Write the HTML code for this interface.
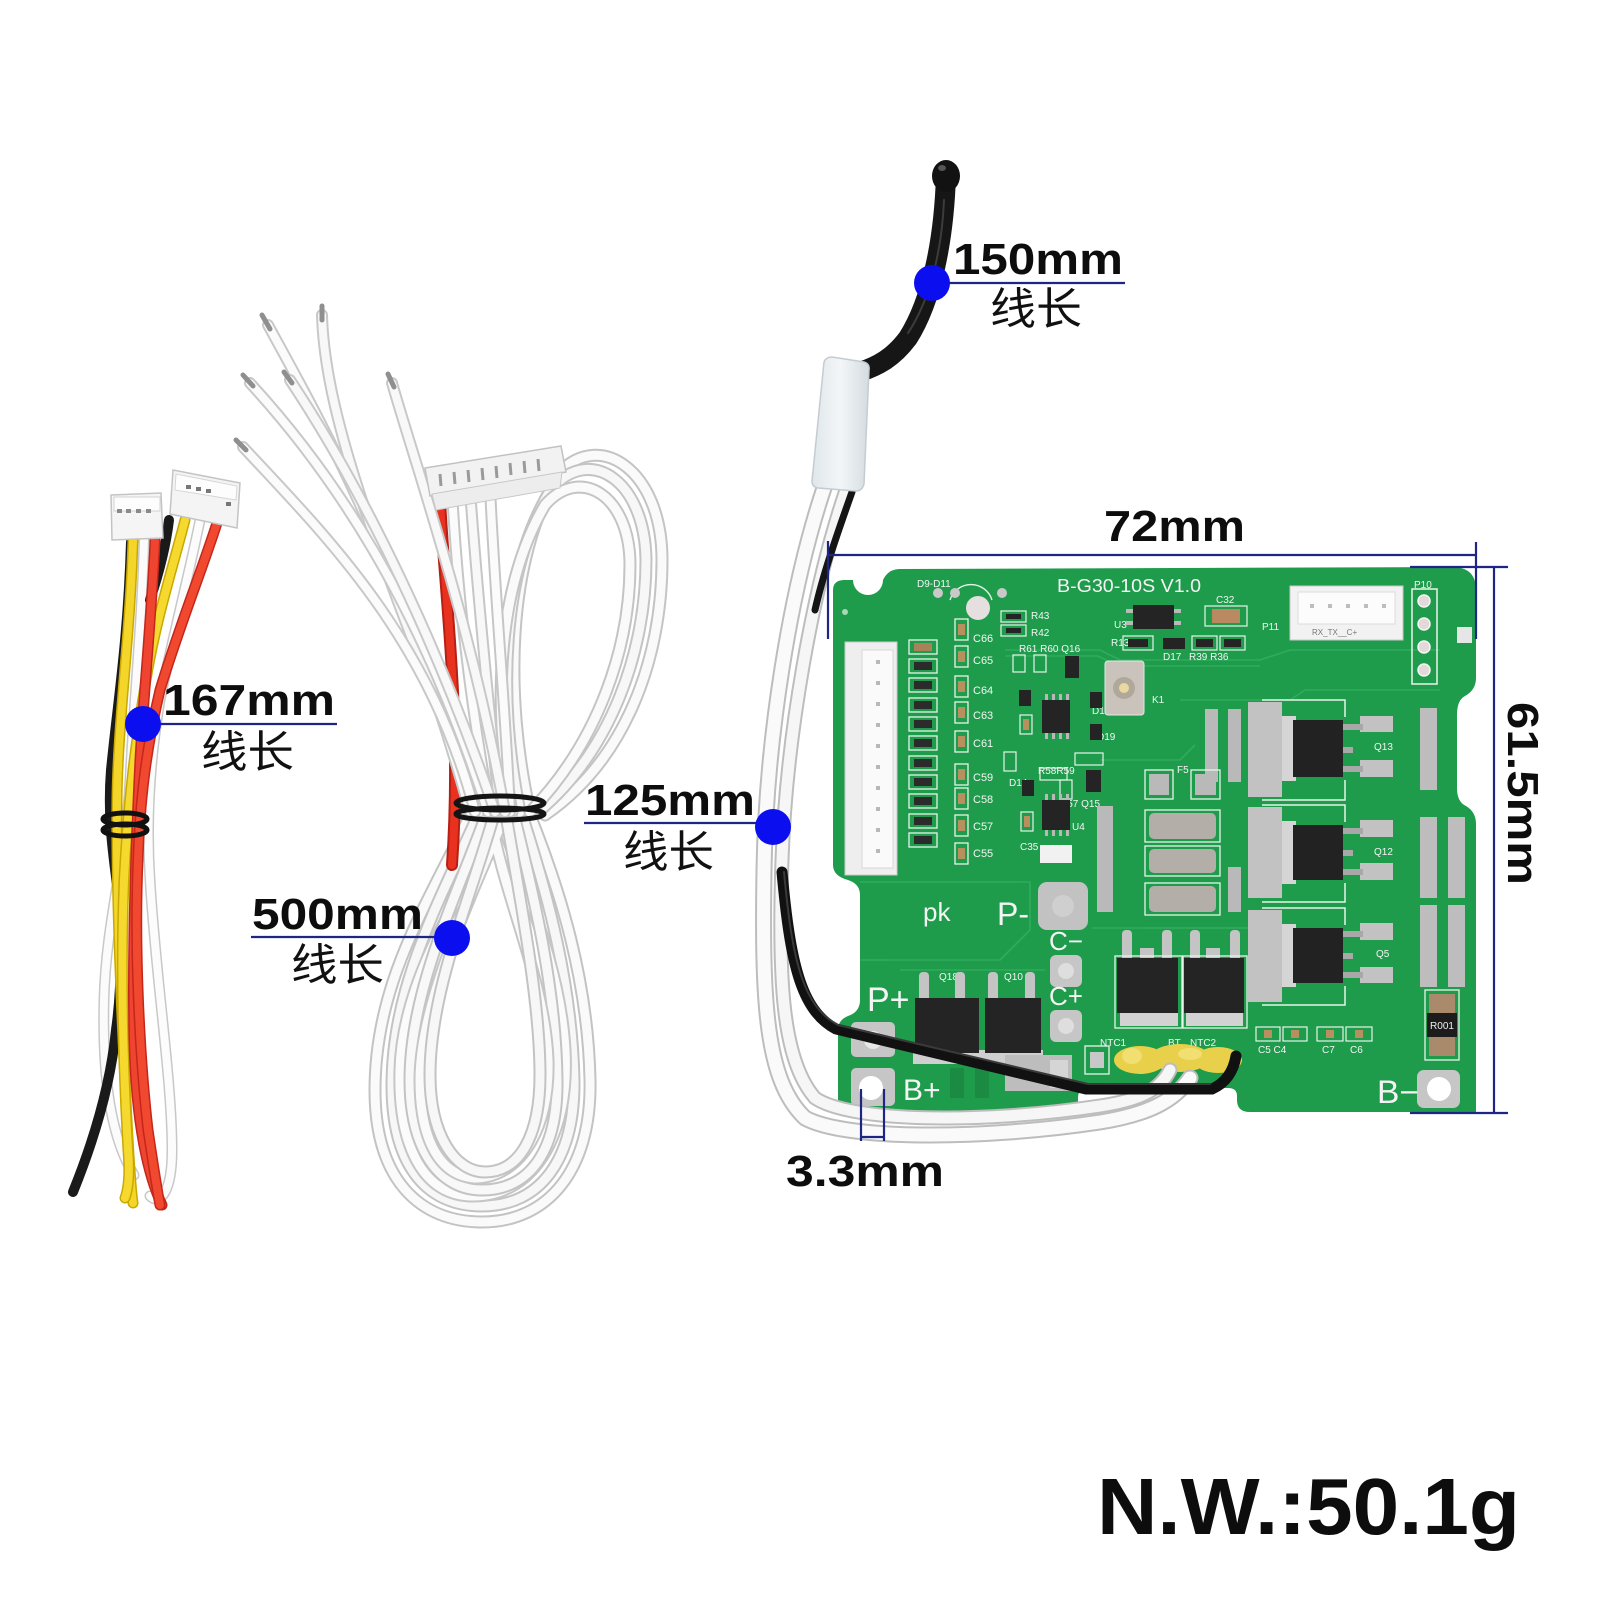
<!DOCTYPE html>
<html><head><meta charset="utf-8">
<style>
html,body{margin:0;padding:0;background:#fff;}
svg{display:block;}
text{font-family:"Liberation Sans","Noto Sans CJK SC",sans-serif;}
.lbl{font-weight:bold;fill:#0d0d0d;font-size:44px;}
.cjk{font-family:"Liberation Sans","Noto Sans CJK SC",sans-serif;fill:#111;font-size:44px;}
.wt{fill:#f4f4f4;font-family:"Liberation Sans",sans-serif;}
</style></head>
<body>
<svg width="1600" height="1600" viewBox="0 0 1600 1600" xmlns="http://www.w3.org/2000/svg">
<defs>
<linearGradient id="sleeve" x1="0" y1="0" x2="1" y2="0">
<stop offset="0" stop-color="#dfe6ea"/><stop offset="0.5" stop-color="#f3f6f8"/><stop offset="1" stop-color="#d4dce0"/>
</linearGradient>
<path id="w1" d="M268,325 C320,420 400,560 470,812"/>
<path id="w2" d="M322,315 C325,420 380,560 480,812"/>
<path id="w3" d="M250,383 C330,470 420,600 488,812"/>
<path id="w4" d="M290,380 C350,470 430,620 495,812"/>
<path id="w5" d="M243,447 C330,540 430,640 475,812"/>
<path id="w6" d="M392,383 C420,480 470,620 505,812"/>
<path id="c1" d="M452,492 C458,600 470,700 490,812"/>
<path id="c2" d="M470,490 C478,600 488,700 500,812"/>
<path id="c3" d="M490,487 C495,600 505,700 510,812"/>
<path id="r1" d="M530,812 C505,700 505,560 560,472 C600,430 662,470 662,560 C662,660 625,760 545,815"/>
<path id="r2" d="M520,812 C498,700 500,570 552,488 C590,445 645,480 646,560 C646,650 612,750 538,812"/>
<path id="r3" d="M512,812 C492,700 498,585 545,505 C580,465 630,495 630,565 C630,645 600,740 530,812"/>
<path id="l1" d="M470,815 C430,900 375,980 375,1090 C375,1180 420,1222 482,1222 C548,1222 592,1170 590,1080 C588,980 560,890 530,815"/>
<path id="l2" d="M478,815 C440,900 392,985 392,1085 C392,1170 430,1206 482,1206 C540,1206 575,1160 574,1080 C572,985 548,895 522,815"/>
<path id="l3" d="M486,815 C455,900 410,990 410,1080 C410,1150 440,1190 482,1190 C530,1190 558,1150 557,1080 C556,990 535,900 514,815"/>
<path id="l4" d="M494,815 C470,900 430,990 430,1075 C430,1135 455,1172 485,1172 C520,1172 540,1135 540,1075 C540,1000 520,900 506,815"/>
<path id="l5" d="M500,815 C520,880 560,960 565,1050 C570,1140 530,1198 470,1196 C420,1194 398,1140 400,1070 C402,990 450,900 512,815"/>
<path id="l6" d="M490,815 C505,900 545,980 548,1060 C550,1130 520,1175 478,1178 C440,1178 420,1140 420,1080 C420,1010 460,920 505,815"/>
</defs>

<rect width="1600" height="1600" fill="#fff"/>

<!-- ================= LEFT HARNESS ================= -->
<g fill="none" stroke-linecap="round">
  <path d="M144,540 C142,620 134,700 130,780 C126,860 106,920 104,1000 C102,1080 112,1140 134,1175" stroke="#c8c8c8" stroke-width="11"/>
  <path d="M144,540 C142,620 134,700 130,780 C126,860 106,920 104,1000 C102,1080 112,1140 134,1175" stroke="#fbfbfb" stroke-width="8"/>
  <path d="M200,520 C190,570 172,640 160,700 C150,760 146,820 150,880 C156,980 172,1080 172,1150 C172,1192 160,1206 150,1196" stroke="#c8c8c8" stroke-width="11"/>
  <path d="M200,520 C190,570 172,640 160,700 C150,760 146,820 150,880 C156,980 172,1080 172,1150 C172,1192 160,1206 150,1196" stroke="#fcfcfc" stroke-width="8"/>
  <!-- black A (mostly hidden behind yellow) -->
  <path d="M131,542 C128,640 118,700 111,770 C107,820 114,860 119,900 C122,950 121,995 116,1030 C110,1090 90,1150 73,1192" stroke="#1a1a1a" stroke-width="10"/>
  <path d="M169,520 C166,545 160,570 150,600" stroke="#1a1a1a" stroke-width="10"/>
  <path d="M133,540 C130,640 118,720 117,800 C116,900 122,1020 126,1100 C129,1160 131,1190 133,1203" stroke="#c9a800" stroke-width="11"/>
  <path d="M133,540 C130,640 118,720 117,800 C116,900 122,1020 126,1100 C129,1160 131,1190 133,1203" stroke="#f4d52a" stroke-width="8"/>
  <path d="M185,520 C172,570 156,620 146,680 C136,740 128,800 124,880 C120,980 124,1080 128,1150 C130,1175 128,1190 125,1198" stroke="#c9a800" stroke-width="11"/>
  <path d="M185,520 C172,570 156,620 146,680 C136,740 128,800 124,880 C120,980 124,1080 128,1150 C130,1175 128,1190 125,1198" stroke="#f6d92e" stroke-width="8"/>
  <path d="M155,540 C152,610 144,690 140,760 C136,840 132,940 134,1040 C136,1130 150,1180 162,1205" stroke="#c4261a" stroke-width="11"/>
  <path d="M155,540 C152,610 144,690 140,760 C136,840 132,940 134,1040 C136,1130 150,1180 162,1205" stroke="#ef4430" stroke-width="8"/>
  <path d="M218,520 C202,570 178,630 160,690 C146,750 140,800 138,860 C134,950 140,1060 148,1130 C154,1170 158,1195 160,1205" stroke="#c4261a" stroke-width="11"/>
  <path d="M218,520 C202,570 178,630 160,690 C146,750 140,800 138,860 C134,950 140,1060 148,1130 C154,1170 158,1195 160,1205" stroke="#f0492f" stroke-width="8"/>
  <ellipse cx="125" cy="819" rx="22" ry="6" stroke="#111" stroke-width="5"/>
  <ellipse cx="125" cy="830" rx="22" ry="6" stroke="#111" stroke-width="5"/>
</g>
<polygon points="111,495 161,493 163,538 112,540" fill="#f5f5f5" stroke="#c4c4c4" stroke-width="1.5"/>
<rect x="114" y="497" width="46" height="14" fill="#fdfdfd" stroke="#d4d4d4"/>
<g fill="#8a8a8a"><rect x="117" y="509" width="5" height="4"/><rect x="126" y="509" width="5" height="4"/><rect x="136" y="509" width="5" height="4"/><rect x="146" y="509" width="5" height="4"/></g>
<polygon points="173,470 240,483 237,528 170,514" fill="#f4f4f4" stroke="#c4c4c4" stroke-width="1.5"/>
<polygon points="176,474 237,486 236,500 175,490" fill="#fdfdfd" stroke="#d6d6d6"/>
<g fill="#777"><rect x="186" y="485" width="5" height="4"/><rect x="196" y="487" width="5" height="4"/><rect x="206" y="489" width="5" height="4"/><rect x="226" y="502" width="5" height="4"/></g>

<!-- ================= MIDDLE BUNDLE ================= -->
<g fill="none" stroke-linecap="round">
  <g stroke="#c3c3c3" stroke-width="13"><use href="#l1"/></g><g stroke="#fafafa" stroke-width="9"><use href="#l1"/></g>
  <g stroke="#c3c3c3" stroke-width="13"><use href="#l2"/></g><g stroke="#f7f7f7" stroke-width="9"><use href="#l2"/></g>
  <g stroke="#c6c6c6" stroke-width="13"><use href="#l5"/></g><g stroke="#fbfbfb" stroke-width="9"><use href="#l5"/></g>
  <g stroke="#c3c3c3" stroke-width="13"><use href="#l3"/></g><g stroke="#f8f8f8" stroke-width="9"><use href="#l3"/></g>
  <g stroke="#c6c6c6" stroke-width="13"><use href="#l6"/></g><g stroke="#fafafa" stroke-width="9"><use href="#l6"/></g>
  <g stroke="#c3c3c3" stroke-width="13"><use href="#l4"/></g><g stroke="#f7f7f7" stroke-width="9"><use href="#l4"/></g>
  <g stroke="#c4c4c4" stroke-width="13"><use href="#r1"/></g><g stroke="#fafafa" stroke-width="9"><use href="#r1"/></g>
  <g stroke="#c4c4c4" stroke-width="13"><use href="#r2"/></g><g stroke="#f7f7f7" stroke-width="9"><use href="#r2"/></g>
  <g stroke="#c4c4c4" stroke-width="13"><use href="#r3"/></g><g stroke="#fafafa" stroke-width="9"><use href="#r3"/></g>
  <path d="M440,500 C445,600 462,720 452,865" stroke="#b61f14" stroke-width="12"/>
  <path d="M440,500 C445,600 462,720 452,865" stroke="#e8321f" stroke-width="8"/>
  <g stroke="#c6c6c6" stroke-width="12"><use href="#c1"/></g><g stroke="#fbfbfb" stroke-width="8"><use href="#c1"/></g>
  <g stroke="#c6c6c6" stroke-width="12"><use href="#c2"/></g><g stroke="#f8f8f8" stroke-width="8"><use href="#c2"/></g>
  <g stroke="#c6c6c6" stroke-width="12"><use href="#c3"/></g><g stroke="#fbfbfb" stroke-width="8"><use href="#c3"/></g>
  <g stroke="#c8c8c8" stroke-width="12"><use href="#w1"/></g><g stroke="#fbfbfb" stroke-width="8"><use href="#w1"/></g>
  <g stroke="#c8c8c8" stroke-width="12"><use href="#w2"/></g><g stroke="#f8f8f8" stroke-width="8"><use href="#w2"/></g>
  <g stroke="#c8c8c8" stroke-width="12"><use href="#w3"/></g><g stroke="#fbfbfb" stroke-width="8"><use href="#w3"/></g>
  <g stroke="#c8c8c8" stroke-width="12"><use href="#w4"/></g><g stroke="#f8f8f8" stroke-width="8"><use href="#w4"/></g>
  <g stroke="#c8c8c8" stroke-width="12"><use href="#w5"/></g><g stroke="#fbfbfb" stroke-width="8"><use href="#w5"/></g>
  <g stroke="#c8c8c8" stroke-width="12"><use href="#w6"/></g><g stroke="#f8f8f8" stroke-width="8"><use href="#w6"/></g>
  <g stroke="#8f8f8f" stroke-width="5">
    <path d="M262,315 L270,329"/><path d="M322,306 L322,320"/><path d="M243,375 L253,386"/>
    <path d="M284,372 L292,383"/><path d="M236,440 L246,450"/><path d="M388,374 L394,387"/>
  </g>
  <ellipse cx="500" cy="803" rx="44" ry="7" stroke="#141414" stroke-width="5"/>
  <ellipse cx="500" cy="814" rx="44" ry="6" stroke="#141414" stroke-width="5"/>
</g>
<polygon points="425,468 561,446 566,472 430,496" fill="#f2f2f2" stroke="#c2c2c2" stroke-width="1.5"/>
<polygon points="432,494 562,472 560,488 436,510" fill="#ededed" stroke="#c8c8c8" stroke-width="1"/>
<g stroke="#9a9a9a" stroke-width="3">
  <path d="M440,474 L441,486"/><path d="M454,472 L455,484"/><path d="M468,470 L469,482"/><path d="M482,468 L483,480"/>
  <path d="M496,466 L497,478"/><path d="M510,463 L511,475"/><path d="M524,461 L525,473"/><path d="M538,459 L539,471"/>
</g>

<!-- ================= PCB ================= -->
<path d="M833,600 L833,590 Q833,580 845,580 L853,580 A15,15 0 0 0 883,580 Q888,569 900,569 L1452,567 Q1476,567 1476,590 L1476,678 Q1476,690 1465,696 Q1457,700 1457,715 L1457,788 Q1457,802 1466,806 Q1476,812 1476,824 L1476,1112 L1250,1112 Q1237,1112 1237,1100 L1237,1096 Q1237,1088 1228,1088 L1088,1088 Q1078,1088 1078,1098 L1078,1112 L838,1112 L838,1030 Q838,1020 848,1016 Q860,1012 860,1000 L860,895 Q860,884 848,880 Q833,876 833,865 Z" fill="#1e9c4c"/>
<g fill="none" stroke="#34b062" stroke-width="1.6" opacity="0.8">
  <path d="M1005,650 L1100,650 L1120,660 L1260,660 L1290,650 L1440,650"/>
  <path d="M1005,656 L1098,656 L1118,666 L1260,666"/>
  <path d="M1180,700 L1290,700 L1305,690 L1440,690"/>
  <path d="M1100,760 L1180,760 L1195,745"/>
  <path d="M860,882 L1030,882 L1030,930 L1000,960 L860,960"/>
  <path d="M900,970 L1045,970"/>
  <path d="M1092,928 L1250,928"/>
</g>
<circle cx="845" cy="612" r="3" fill="#a8d8b5"/>

<rect x="845" y="642" width="52" height="233" fill="#eeeeee" stroke="#c9c9c9"/>
<rect x="862" y="650" width="31" height="218" fill="#fafafa" stroke="#d8d8d8"/>
<g fill="#b8b8b8">
  <rect x="876" y="660" width="4" height="4"/><rect x="876" y="681" width="4" height="4"/><rect x="876" y="702" width="4" height="4"/>
  <rect x="876" y="723" width="4" height="4"/><rect x="876" y="744" width="4" height="4"/><rect x="876" y="765" width="4" height="4"/>
  <rect x="876" y="786" width="4" height="4"/><rect x="876" y="807" width="4" height="4"/><rect x="876" y="828" width="4" height="4"/><rect x="876" y="849" width="4" height="4"/>
</g>
<g>
  <g fill="none" stroke="#e6f4ea" stroke-width="1.3">
    <rect x="909" y="640" width="28" height="14"/><rect x="909" y="659" width="28" height="14"/><rect x="909" y="678" width="28" height="14"/>
    <rect x="909" y="698" width="28" height="14"/><rect x="909" y="717" width="28" height="14"/><rect x="909" y="736" width="28" height="14"/>
    <rect x="909" y="756" width="28" height="14"/><rect x="909" y="775" width="28" height="14"/><rect x="909" y="794" width="28" height="14"/>
    <rect x="909" y="814" width="28" height="14"/><rect x="909" y="833" width="28" height="14"/>
  </g>
  <g fill="#2b2b2b">
    <rect x="914" y="643" width="18" height="8" fill="#a9825a"/><rect x="914" y="662" width="18" height="8"/><rect x="914" y="681" width="18" height="8"/>
    <rect x="914" y="701" width="18" height="8"/><rect x="914" y="720" width="18" height="8"/><rect x="914" y="739" width="18" height="8"/>
    <rect x="914" y="759" width="18" height="8"/><rect x="914" y="778" width="18" height="8"/><rect x="914" y="797" width="18" height="8"/>
    <rect x="914" y="817" width="18" height="8"/><rect x="914" y="836" width="18" height="8"/>
  </g>
</g>
<g>
  <g fill="none" stroke="#e6f4ea" stroke-width="1.3">
    <rect x="955" y="619" width="13" height="21"/><rect x="955" y="646" width="13" height="21"/><rect x="955" y="676" width="13" height="21"/>
    <rect x="955" y="702" width="13" height="21"/><rect x="955" y="731" width="13" height="21"/><rect x="955" y="764" width="13" height="21"/>
    <rect x="955" y="788" width="13" height="21"/><rect x="955" y="815" width="13" height="21"/><rect x="955" y="843" width="13" height="21"/>
  </g>
  <g fill="#b8905f">
    <rect x="958" y="624" width="7" height="11"/><rect x="958" y="651" width="7" height="11"/><rect x="958" y="681" width="7" height="11"/>
    <rect x="958" y="707" width="7" height="11"/><rect x="958" y="736" width="7" height="11"/><rect x="958" y="769" width="7" height="11"/>
    <rect x="958" y="793" width="7" height="11"/><rect x="958" y="820" width="7" height="11"/><rect x="958" y="848" width="7" height="11"/>
  </g>
</g>
<g class="wt" font-size="11">
  <text x="973" y="642">C66</text><text x="973" y="664">C65</text><text x="973" y="694">C64</text>
  <text x="973" y="719">C63</text><text x="973" y="747">C61</text><text x="973" y="781">C59</text>
  <text x="973" y="803">C58</text><text x="973" y="830">C57</text><text x="973" y="857">C55</text>
  <text x="917" y="587" font-size="10">D9-D11</text>
  <text x="1031" y="619" font-size="10">R43</text><text x="1031" y="636" font-size="10">R42</text>
  <text x="1019" y="652" font-size="10">R61 R60 Q16</text>
  <text x="1114" y="628" font-size="10">U3</text><text x="1111" y="646" font-size="10">R13</text>
  <text x="1163" y="660" font-size="10">D17</text><text x="1189" y="660" font-size="10">R39 R36</text>
  <text x="1216" y="603" font-size="10">C32</text><text x="1262" y="630" font-size="10">P11</text>
  <text x="1414" y="588" font-size="10">P10</text><text x="1152" y="703" font-size="10">K1</text>
  <text x="1097" y="740" font-size="10">D19</text><text x="1092" y="714" font-size="10">D18</text>
  <text x="1038" y="774" font-size="10">R58R59</text><text x="1060" y="807" font-size="10">R57 Q15</text>
  <text x="1072" y="830" font-size="10">U4</text><text x="1020" y="850" font-size="10">C35</text>
  <text x="1009" y="786" font-size="10">D14</text>
  <text x="1177" y="773" font-size="10">F5</text>
  <text x="1374" y="750" font-size="10">Q13</text><text x="1374" y="855" font-size="10">Q12</text><text x="1376" y="957" font-size="10">Q5</text>
  <text x="939" y="980" font-size="10">Q18</text><text x="1004" y="980" font-size="10">Q10</text>
  <text x="1100" y="1046" font-size="10">NTC1</text><text x="1168" y="1046" font-size="10">BT</text><text x="1190" y="1046" font-size="10">NTC2</text>
  <text x="1258" y="1053" font-size="10">C5 C4</text><text x="1322" y="1053" font-size="10">C7</text><text x="1350" y="1053" font-size="10">C6</text>
</g>
<text class="wt" x="1057" y="592" font-size="18" textLength="144" lengthAdjust="spacingAndGlyphs">B-G30-10S V1.0</text>

<path d="M950,600 A22,22 0 0 1 992,600" fill="none" stroke="#e6f4ea" stroke-width="1.3"/>
<circle cx="978" cy="608" r="12" fill="#e6dfdf"/>
<circle cx="938" cy="593" r="5" fill="#c9c9c9"/><circle cx="955" cy="593" r="5" fill="#c9c9c9"/><circle cx="1002" cy="593" r="5" fill="#c9c9c9"/>
<g fill="none" stroke="#e6f4ea" stroke-width="1.2">
  <rect x="1001" y="611" width="25" height="11"/><rect x="1001" y="625" width="25" height="11"/>
  <rect x="1013" y="655" width="12" height="17"/><rect x="1034" y="655" width="12" height="17"/>
  <rect x="1123" y="636" width="30" height="14"/><rect x="1192" y="636" width="25" height="14"/><rect x="1220" y="636" width="25" height="14"/>
  <rect x="1205" y="606" width="42" height="20"/><rect x="1020" y="715" width="12" height="19"/><rect x="1004" y="752" width="12" height="19"/>
  <rect x="1040" y="768" width="27" height="12"/><rect x="1075" y="753" width="28" height="12"/><rect x="1060" y="780" width="12" height="19"/>
  <rect x="1021" y="812" width="12" height="19"/>
</g>
<g fill="#242424">
  <rect x="1006" y="614" width="15" height="5"/><rect x="1006" y="628" width="15" height="5"/>
  <rect x="1133" y="605" width="41" height="24"/>
  <rect x="1163" y="638" width="22" height="11"/>
  <rect x="1065" y="656" width="14" height="22"/>
  <rect x="1019" y="690" width="12" height="16"/><rect x="1090" y="692" width="12" height="16"/><rect x="1090" y="724" width="12" height="16"/>
  <rect x="1042" y="700" width="28" height="33"/><rect x="1042" y="800" width="28" height="30"/>
  <rect x="1022" y="780" width="12" height="16"/><rect x="1086" y="770" width="15" height="22"/>
  <rect x="1128" y="639" width="20" height="8"/><rect x="1196" y="639" width="17" height="8"/><rect x="1224" y="639" width="17" height="8"/>
</g>
<g fill="#b9b9b9">
  <rect x="1045" y="694" width="3" height="6"/><rect x="1052" y="694" width="3" height="6"/><rect x="1059" y="694" width="3" height="6"/><rect x="1066" y="694" width="3" height="6"/>
  <rect x="1045" y="733" width="3" height="6"/><rect x="1052" y="733" width="3" height="6"/><rect x="1059" y="733" width="3" height="6"/><rect x="1066" y="733" width="3" height="6"/>
  <rect x="1045" y="794" width="3" height="6"/><rect x="1052" y="794" width="3" height="6"/><rect x="1059" y="794" width="3" height="6"/><rect x="1066" y="794" width="3" height="6"/>
  <rect x="1045" y="830" width="3" height="6"/><rect x="1052" y="830" width="3" height="6"/><rect x="1059" y="830" width="3" height="6"/><rect x="1066" y="830" width="3" height="6"/>
  <rect x="1126" y="609" width="7" height="4"/><rect x="1126" y="621" width="7" height="4"/><rect x="1174" y="609" width="7" height="4"/><rect x="1174" y="621" width="7" height="4"/>
</g>
<rect x="1212" y="609" width="28" height="14" fill="#b98a62"/>
<g fill="#b8905f"><rect x="1023" y="719" width="6" height="11"/><rect x="1024" y="816" width="6" height="11"/></g>
<rect x="1040" y="845" width="32" height="18" fill="#f1f1f1"/>
<rect x="1290" y="586" width="113" height="54" fill="#f2f2f2" stroke="#c8c8c8"/>
<rect x="1298" y="592" width="97" height="32" fill="#fcfcfc" stroke="#dcdcdc"/>
<g fill="#bdbdbd"><rect x="1310" y="604" width="4" height="4"/><rect x="1328" y="604" width="4" height="4"/><rect x="1346" y="604" width="4" height="4"/><rect x="1364" y="604" width="4" height="4"/><rect x="1382" y="604" width="4" height="4"/></g>
<text x="1312" y="635" font-size="8" fill="#777">RX_TX__C+</text>
<rect x="1412" y="589" width="25" height="95" fill="none" stroke="#e8f4ea" stroke-width="1.5"/>
<g fill="#e3d9d9" stroke="#f5f5f5" stroke-width="1.5"><circle cx="1424" cy="601" r="6"/><circle cx="1424" cy="624" r="6"/><circle cx="1424" cy="647" r="6"/><circle cx="1424" cy="670" r="6"/></g>
<rect x="1457" y="627" width="15" height="16" fill="#e6e6e6"/>
<rect x="1105" y="661" width="39" height="54" rx="3" fill="#c9c3bb" stroke="#e6e6e6"/>
<circle cx="1124" cy="688" r="11" fill="#b1a89c"/><circle cx="1124" cy="688" r="5" fill="#e9d8a2"/>

<g fill="#b9b9b9">
  <rect x="1205" y="709" width="13" height="73"/>
  <rect x="1228" y="709" width="13" height="73"/>
  <rect x="1228" y="867" width="13" height="45"/>
  <rect x="1097" y="806" width="16" height="106"/>
  <rect x="1149" y="774" width="20" height="21"/><rect x="1195" y="774" width="21" height="21"/>
</g>
<g fill="none" stroke="#e6f4ea" stroke-width="1.3"><rect x="1145" y="770" width="28" height="29"/><rect x="1191" y="770" width="29" height="29"/>
<rect x="1145" y="810" width="75" height="32"/><rect x="1145" y="846" width="75" height="30"/><rect x="1145" y="883" width="75" height="32"/></g>
<g fill="#b3aea7"><rect x="1149" y="813" width="67" height="26" rx="5"/><rect x="1149" y="849" width="67" height="24" rx="5"/><rect x="1149" y="886" width="67" height="26" rx="5"/></g>
<g fill="none" stroke="#e6f4ea" stroke-width="1.5">
  <path d="M1262,700 L1345,700 L1345,717"/><path d="M1262,800 L1345,800 L1345,780"/>
  <path d="M1262,805 L1345,805 L1345,822"/><path d="M1262,902 L1345,902 L1345,883"/>
  <path d="M1262,908 L1345,908 L1345,925"/><path d="M1262,1005 L1345,1005 L1345,986"/>
</g>
<g fill="#c2c2c2">
  <rect x="1248" y="702" width="34" height="95"/><rect x="1248" y="807" width="34" height="91"/><rect x="1248" y="910" width="34" height="92"/>
  <rect x="1282" y="716" width="14" height="65" fill="#d5d5d5"/><rect x="1282" y="821" width="14" height="63" fill="#d5d5d5"/><rect x="1282" y="924" width="14" height="63" fill="#d5d5d5"/>
  <rect x="1360" y="716" width="33" height="16"/><rect x="1360" y="760" width="33" height="17"/>
  <rect x="1360" y="820" width="33" height="17"/><rect x="1360" y="863" width="33" height="17"/>
  <rect x="1360" y="923" width="33" height="17"/><rect x="1360" y="967" width="33" height="16"/>
</g>
<g fill="#a8a8a8">
  <rect x="1343" y="724" width="20" height="6"/><rect x="1343" y="747" width="10" height="6"/><rect x="1343" y="766" width="20" height="6"/>
  <rect x="1343" y="828" width="20" height="6"/><rect x="1343" y="850" width="10" height="6"/><rect x="1343" y="869" width="20" height="6"/>
  <rect x="1343" y="931" width="20" height="6"/><rect x="1343" y="953" width="10" height="6"/><rect x="1343" y="972" width="20" height="6"/>
</g>
<g fill="#222"><rect x="1293" y="720" width="50" height="57"/><rect x="1293" y="825" width="50" height="55"/><rect x="1293" y="928" width="50" height="55"/></g>
<g fill="#bdbdbd">
  <rect x="1420" y="708" width="17" height="82"/><rect x="1420" y="817" width="17" height="81"/><rect x="1448" y="817" width="17" height="81"/>
  <rect x="1420" y="905" width="17" height="82"/><rect x="1448" y="905" width="17" height="82"/>
</g>
<rect x="1425" y="990" width="34" height="70" fill="none" stroke="#e6f4ea" stroke-width="1.3"/>
<rect x="1429" y="994" width="26" height="19" fill="#a98b6c"/><rect x="1429" y="1037" width="26" height="19" fill="#a98b6c"/>
<rect x="1427" y="1013" width="30" height="24" fill="#1c1c1c"/>
<text x="1430" y="1029" font-size="10" fill="#eee" textLength="24" lengthAdjust="spacingAndGlyphs">R001</text>
<rect x="1417" y="1070" width="43" height="38" rx="7" fill="#c6c6c6"/>
<circle cx="1439" cy="1089" r="12" fill="#fff"/>
<text class="wt" x="1377" y="1103" font-size="32" textLength="42" lengthAdjust="spacingAndGlyphs">B−</text>
<g fill="none" stroke="#e6f4ea" stroke-width="1.2"><rect x="1256" y="1027" width="24" height="14"/><rect x="1283" y="1027" width="24" height="14"/><rect x="1317" y="1027" width="26" height="14"/><rect x="1346" y="1027" width="26" height="14"/></g>
<g fill="#b8905f"><rect x="1264" y="1030" width="8" height="8"/><rect x="1291" y="1030" width="8" height="8"/><rect x="1326" y="1030" width="8" height="8"/><rect x="1355" y="1030" width="8" height="8"/></g>

<g fill="#c4c4c4">
  <rect x="1122" y="930" width="10" height="32" rx="4"/><rect x="1162" y="930" width="10" height="32" rx="4"/>
  <rect x="1190" y="930" width="10" height="32" rx="4"/><rect x="1230" y="930" width="10" height="32" rx="4"/>
  <rect x="1140" y="948" width="14" height="12"/><rect x="1206" y="948" width="14" height="12"/>
  <rect x="1120" y="1010" width="58" height="16" fill="#d2d2d2"/><rect x="1186" y="1010" width="57" height="16" fill="#d2d2d2"/>
</g>
<g fill="none" stroke="#e6f4ea" stroke-width="1.3"><rect x="1115" y="956" width="67" height="72"/><rect x="1183" y="956" width="64" height="72"/></g>
<g fill="#242424"><rect x="1117" y="958" width="61" height="55"/><rect x="1184" y="958" width="60" height="55"/></g>
<g fill="#c4c4c4">
  <rect x="919" y="972" width="10" height="30" rx="4"/><rect x="955" y="972" width="10" height="30" rx="4"/>
  <rect x="988" y="972" width="10" height="30" rx="4"/><rect x="1025" y="972" width="10" height="30" rx="4"/>
  <rect x="913" y="1050" width="130" height="14" fill="#cfcfcf"/>
</g>
<g fill="#242424"><rect x="915" y="998" width="64" height="55"/><rect x="985" y="998" width="56" height="55"/></g>
<rect x="1038" y="882" width="50" height="48" rx="9" fill="#c2c2c2"/><circle cx="1063" cy="906" r="11" fill="#cfcfcf"/>
<rect x="1050" y="955" width="32" height="32" rx="6" fill="#c6c6c6"/><circle cx="1066" cy="971" r="8" fill="#dedede"/>
<rect x="1050" y="1010" width="32" height="32" rx="6" fill="#c6c6c6"/><circle cx="1066" cy="1026" r="8" fill="#dedede"/>
<rect x="851" y="1022" width="44" height="35" rx="5" fill="#c6c6c6"/><circle cx="873" cy="1040" r="9" fill="#e8e8e8"/>
<rect x="851" y="1068" width="44" height="38" rx="5" fill="#c6c6c6"/><circle cx="871" cy="1088" r="12" fill="#fff"/>
<rect x="1005" y="1055" width="67" height="36" fill="#bdbdbd"/><rect x="1050" y="1060" width="18" height="28" fill="#d5d5d5"/>
<rect x="1085" y="1046" width="24" height="28" fill="none" stroke="#e6f4ea" stroke-width="1.3"/><rect x="1090" y="1052" width="14" height="16" fill="#c8c8c8"/>
<g fill="#1b8a43"><rect x="950" y="1068" width="14" height="30"/><rect x="975" y="1068" width="14" height="30"/></g>
<text class="wt" x="923" y="921" font-size="26">pk</text>
<text class="wt" x="997" y="925" font-size="32">P-</text>
<text class="wt" x="1049" y="950" font-size="26">C−</text>
<text class="wt" x="1049" y="1005" font-size="26">C+</text>
<text class="wt" x="867" y="1011" font-size="34">P+</text>
<text class="wt" x="903" y="1100" font-size="30">B+</text>
<g fill="#e9d04a">
  <ellipse cx="1140" cy="1060" rx="26" ry="14"/><ellipse cx="1180" cy="1058" rx="30" ry="14"/><ellipse cx="1218" cy="1060" rx="24" ry="13"/>
</g>
<g fill="#f4e27a" opacity="0.8"><ellipse cx="1132" cy="1056" rx="10" ry="8"/><ellipse cx="1190" cy="1054" rx="12" ry="6"/></g>

<!-- ================= THERMISTOR ================= -->
<g fill="none" stroke-linecap="round">
  <path d="M824,488 C790,590 766,740 764,870 C762,1000 765,1080 805,1118 C845,1140 980,1140 1100,1122 C1150,1114 1175,1100 1190,1078" stroke="#bdbdbd" stroke-width="17"/>
  <path d="M824,488 C790,590 766,740 764,870 C762,1000 765,1080 805,1118 C845,1140 980,1140 1100,1122 C1150,1114 1175,1100 1190,1078" stroke="#fafafa" stroke-width="13"/>
  <path d="M846,490 C812,590 786,740 782,860 C778,980 782,1060 815,1098 C850,1122 980,1124 1100,1106 C1140,1100 1160,1090 1170,1070" stroke="#bdbdbd" stroke-width="15"/>
  <path d="M846,490 C812,590 786,740 782,860 C778,980 782,1060 815,1098 C850,1122 980,1124 1100,1106 C1140,1100 1160,1090 1170,1070" stroke="#f6f6f6" stroke-width="11"/>
  <path d="M852,492 C835,540 823,575 815,610" stroke="#151515" stroke-width="7"/>
  <path d="M782,872 C790,960 800,1010 836,1029 L1086,1089 L1212,1089 Q1232,1080 1236,1056" stroke="#111" stroke-width="11"/>
  <path d="M784,872 C792,958 802,1006 838,1025 L1088,1084 L1210,1084" stroke="#3a3a3a" stroke-width="2"/>
  <path d="M946,175 C944,240 932,300 908,338 C893,358 878,366 860,372" stroke="#161616" stroke-width="20"/>
  <path d="M944,200 C942,250 930,300 908,333" stroke="#3c3c3c" stroke-width="2"/>
</g>
<ellipse cx="946" cy="176" rx="14" ry="16" fill="#121212"/>
<ellipse cx="942" cy="168" rx="4" ry="3" fill="#555"/>
<path d="M824,362 Q826,357 832,357 L864,362 Q870,364 869,370 L864,484 Q862,491 856,491 L818,488 Q812,487 812,481 Z" fill="url(#sleeve)" stroke="#c4ccd0" stroke-width="1.5"/>

<!-- ================= DIMENSIONS ================= -->
<g stroke="#1d2585" stroke-width="2.2" fill="none">
  <path d="M828,541 L828,639"/><path d="M828,555 L1477,555"/><path d="M1476,542 L1476,639"/>
  <path d="M1410,567 L1508,567"/><path d="M1494,567 L1494,1113"/><path d="M1410,1113 L1508,1113"/>
  <path d="M861,1089 L861,1141"/><path d="M884,1089 L884,1141"/><path d="M861,1137 L884,1137"/>
  <path d="M931,283 L1125,283"/>
  <path d="M143,724 L337,724"/>
  <path d="M251,937 L452,937"/>
  <path d="M584,823 L773,823"/>
</g>
<g fill="#0b0ff0">
  <circle cx="932" cy="283" r="18"/>
  <circle cx="143" cy="724" r="18"/>
  <circle cx="452" cy="938" r="18"/>
  <circle cx="773" cy="827" r="18"/>
</g>

<!-- ================= LABELS ================= -->
<text class="lbl" x="953" y="274" textLength="170" lengthAdjust="spacingAndGlyphs">150mm</text>
<text class="cjk" x="990" y="324" textLength="92" lengthAdjust="spacingAndGlyphs">线长</text>
<text class="lbl" x="163" y="715" textLength="172" lengthAdjust="spacingAndGlyphs">167mm</text>
<text class="cjk" x="201" y="767" textLength="93" lengthAdjust="spacingAndGlyphs">线长</text>
<text class="lbl" x="252" y="929" textLength="171" lengthAdjust="spacingAndGlyphs">500mm</text>
<text class="cjk" x="291" y="980" textLength="93" lengthAdjust="spacingAndGlyphs">线长</text>
<text class="lbl" x="585" y="815" textLength="170" lengthAdjust="spacingAndGlyphs">125mm</text>
<text class="cjk" x="623" y="867" textLength="91" lengthAdjust="spacingAndGlyphs">线长</text>
<text class="lbl" x="1104" y="541" textLength="141" lengthAdjust="spacingAndGlyphs">72mm</text>
<text class="lbl" x="786" y="1186" textLength="158" lengthAdjust="spacingAndGlyphs">3.3mm</text>
<text class="lbl" transform="translate(1508,702) rotate(90)" x="0" y="0" font-size="40" textLength="183" lengthAdjust="spacingAndGlyphs">61.5mm</text>
<text class="lbl" x="1097" y="1534" style="font-size:80px" textLength="423" lengthAdjust="spacingAndGlyphs">N.W.:50.1g</text>
</svg>
</body></html>
